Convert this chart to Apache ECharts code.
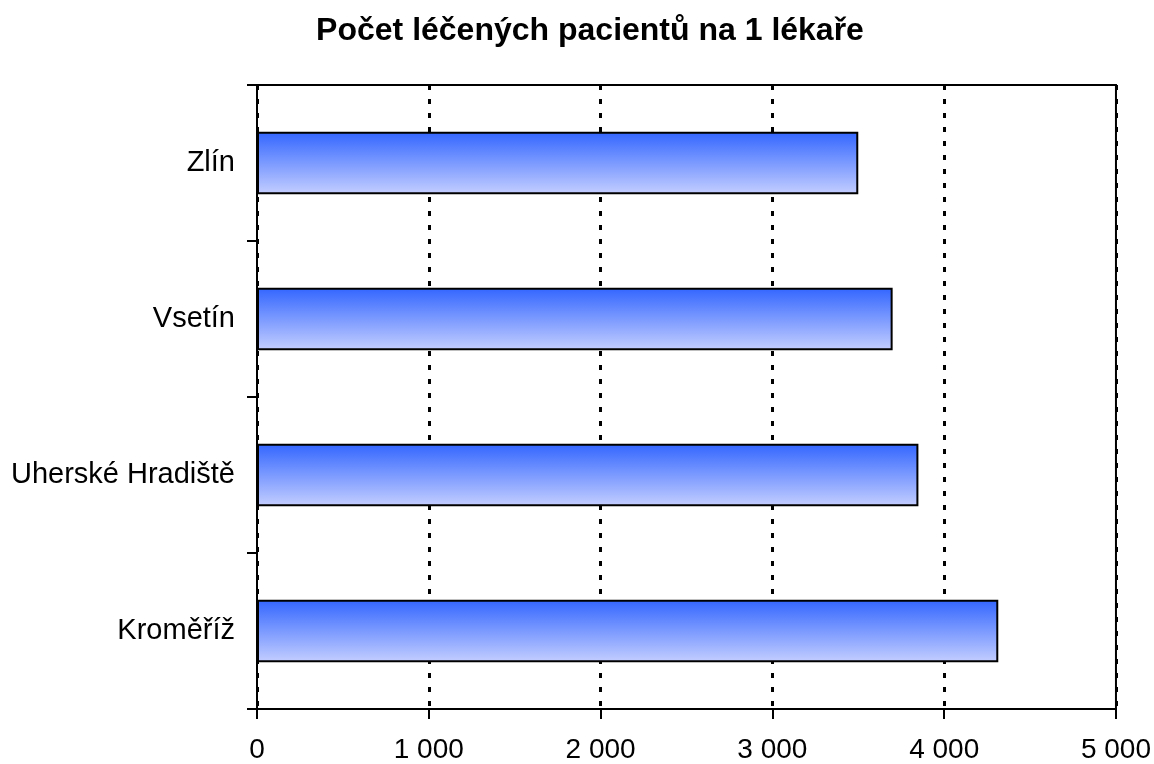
<!DOCTYPE html>
<html>
<head>
<meta charset="utf-8">
<script src="https://cdn.jsdelivr.net/npm/echarts@6/dist/echarts.min.js"></script>
<style>
  html, body { margin: 0; padding: 0; background: #fff; }
  #chart { width: 1154px; height: 764px; }
</style>
</head>
<body>
<div id="chart"></div>
<script>
// data
const categories = ['Zlín', 'Vsetín', 'Uherské Hradiště', 'Kroměříž'];
const patients = [3500, 3700, 3850, 4315];
const xTicks = [0, 1000, 2000, 3000, 4000, 5000];

const font = '"Liberation Sans", Arial, sans-serif';
const myChart = echarts.init(document.getElementById('chart'));

const opt = {
  animation: false,
  title: {
    text: 'Počet léčených pacientů na 1 lékaře',
    left: 585,
    top: 10,
    textAlign: 'center',
    textStyle: { fontFamily: font, fontSize: 32, fontWeight: 'bold', color: '#000' }
  },
  grid: {
    left: 257, right: 38, top: 85, bottom: 53,
    show: true,
    borderColor: '#000',
    borderWidth: 2
  },
  xAxis: {
    type: 'value',
    min: xTicks[0],
    max: xTicks[xTicks.length - 1],
    interval: 1000,
    axisLine: { show: true, lineStyle: { color: '#000', width: 2 } },
    axisTick: { show: true, length: 10, lineStyle: { color: '#000', width: 2 } },
    axisLabel: {
      margin: 27,
      fontFamily: font, fontSize: 28, color: '#000',
      formatter: v => String(v).replace(/\B(?=(\d{3})+(?!\d))/g, ' ')
    },
    splitLine: {
      show: true,
      lineStyle: { color: '#000', width: 3, type: [5, 9] }
    }
  },
  yAxis: {
    type: 'category',
    inverse: true,
    data: categories,
    axisLine: { show: true, lineStyle: { color: '#000', width: 2 } },
    axisTick: { show: true, length: 10, alignWithLabel: false, lineStyle: { color: '#000', width: 2 } },
    axisLabel: { margin: 22, fontFamily: font, fontSize: 29, color: '#000' },
    splitLine: { show: false }
  },
  series: [
    {
      type: 'bar',
      data: patients,
      barWidth: '40%',
      itemStyle: {
        color: new echarts.graphic.LinearGradient(0, 0, 0, 1, [
          { offset: 0, color: '#3366ff' },
          { offset: 1, color: '#c4ceff' }
        ]),
        borderColor: '#000',
        borderWidth: 2
      }
    }
  ]
};
myChart.setOption(opt);
</script>
</body>
</html>
